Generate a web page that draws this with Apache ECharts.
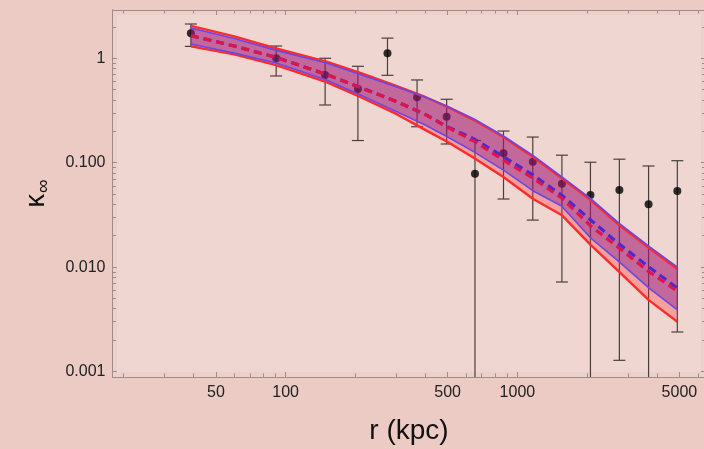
<!DOCTYPE html>
<html>
<head>
<meta charset="utf-8">
<script src="https://cdn.jsdelivr.net/npm/echarts@6/dist/echarts.min.js"></script>
<style>
html, body { margin: 0; padding: 0; background: #ebcbc4; }
#main { width: 704px; height: 449px; }
</style>
</head>
<body>
<div id="main"></div>
<script>
// 模型带的采样半径 (kpc)
var bandR = [39, 60, 91, 150, 210, 300, 400, 500, 650, 870, 1170, 1550, 2070, 2750, 3700, 4900];
// 红色带 上下边界 + 中线
var redTop = [2.04, 1.62, 1.24, 0.93, 0.723, 0.543, 0.426, 0.342, 0.256, 0.176, 0.1134, 0.0714, 0.0439, 0.0253, 0.0152, 0.0096];
var redMid = [1.65, 1.31, 1.02, 0.70, 0.525, 0.386, 0.290, 0.218, 0.161, 0.106, 0.071, 0.046, 0.0248, 0.0152, 0.0090, 0.0059];
var redBot = [1.30, 1.09, 0.86, 0.59, 0.426, 0.293, 0.206, 0.158, 0.111, 0.073, 0.0449, 0.0316, 0.0163, 0.0090, 0.0048, 0.0030];
// 蓝色带
var blueTop = [1.95, 1.55, 1.19, 0.90, 0.70, 0.535, 0.426, 0.345, 0.262, 0.180, 0.117, 0.0735, 0.0452, 0.0262, 0.0158, 0.0100];
var blueMid = [1.65, 1.31, 1.02, 0.70, 0.525, 0.386, 0.290, 0.220, 0.169, 0.114, 0.076, 0.049, 0.0283, 0.0166, 0.0100, 0.0063];
var blueBot = [1.37, 1.12, 0.90, 0.62, 0.445, 0.309, 0.230, 0.176, 0.127, 0.085, 0.0536, 0.0385, 0.0190, 0.0112, 0.0063, 0.0039];

// 观测点 + 误差棒 (1e-4 = 下端在坐标轴以下)
var ptR = [39, 91, 148, 205, 275, 369, 495, 656, 871, 1165, 1556, 2066, 2754, 3681, 4898];
var ptK = [1.74, 1.0, 0.692, 0.508, 1.12, 0.423, 0.276, 0.0785, 0.123, 0.102, 0.0629, 0.049, 0.0548, 0.040, 0.0536];
var ptHi = [2.13, 1.31, 1.0, 0.838, 1.56, 0.62, 0.405, 0.163, 0.201, 0.176, 0.118, 0.101, 0.108, 0.093, 0.1045];
var ptLo = [1.30, 0.677, 0.357, 0.163, 0.687, 0.221, 0.151, 1e-4, 0.0449, 0.0282, 0.0072, 1e-4, 0.00128, 1e-4, 0.00239];

// 刻度
var xMajor = [50, 100, 500, 1000, 5000];
var xMinor = [20, 30, 40, 60, 70, 80, 90, 200, 300, 400, 600, 700, 800, 900, 2000, 3000, 4000, 6000];
var yMajor = [0.001, 0.01, 0.1, 1];
var yMinor = [0.002, 0.003, 0.004, 0.005, 0.006, 0.007, 0.008, 0.009,
	0.02, 0.03, 0.04, 0.05, 0.06, 0.07, 0.08, 0.09,
	0.2, 0.3, 0.4, 0.5, 0.6, 0.7, 0.8, 0.9, 2];
var xRange = [17.9, 6480];
var yRange = [0.000886, 2.90];
var innerX = [18.7, 6190];
var innerY = [0.00099, 2.6];

var frameColor = '#9c8c8a';
var font = 'Liberation Sans, Arial, sans-serif';

function pairs(xs, ys) {
	return xs.map(function(x, i) { return [x, ys[i]]; });
}

// 多边形填充带
function band(top, bot, fill) {
	return {
		type: 'custom',
		z: 3,
		silent: true,
		data: [[bandR[0], top[0]]],
		renderItem: function(params, api) {
			var pts = [];
			for (var i = 0; i < bandR.length; i++) pts.push(api.coord([bandR[i], top[i]]));
			for (var j = bandR.length - 1; j >= 0; j--) pts.push(api.coord([bandR[j], bot[j]]));
			return { type: 'polygon', shape: { points: pts }, style: { fill: fill } };
		}
	};
}

function edge(ys, color, width, dash, z) {
	return {
		type: 'line',
		z: z,
		silent: true,
		showSymbol: false,
		data: pairs(bandR, ys),
		lineStyle: { color: color, width: width, type: dash ? [8, 5] : 'solid' }
	};
}

function xAx(pos, vals, len, labels) {
	return {
		type: 'log', position: pos, min: xRange[0], max: xRange[1],
		splitLine: { show: false },
		axisLine: { show: true, lineStyle: { color: frameColor, width: 1 } },
		axisTick: { inside: true, customValues: vals, length: len, lineStyle: { color: frameColor } },
		axisLabel: labels ? {
			customValues: vals, fontSize: 16, color: '#222', margin: 8, fontFamily: font,
			formatter: function(v) { return String(Math.round(v)); }
		} : { show: false }
	};
}

function yAx(pos, vals, len, labels) {
	return {
		type: 'log', position: pos, min: yRange[0], max: yRange[1],
		splitLine: { show: false },
		axisLine: { show: true, lineStyle: { color: frameColor, width: 1 } },
		axisTick: { inside: true, customValues: vals, length: len, lineStyle: { color: frameColor } },
		axisLabel: labels ? {
			customValues: vals, fontSize: 16, color: '#222', margin: 7, fontFamily: font,
			formatter: function(v) { return v > 0.5 ? '1' : v.toFixed(3); }
		} : { show: false }
	};
}

var xAxes = [xAx('bottom', xMajor, 6, true), xAx('bottom', xMinor, 3.5, false),
	xAx('top', xMajor, 6, false), xAx('top', xMinor, 3.5, false)];
xAxes[0].name = 'r (kpc)';
xAxes[0].nameLocation = 'middle';
xAxes[0].nameGap = 40;
xAxes[0].nameTextStyle = { fontSize: 28, color: '#111', fontFamily: font };

var yAxes = [yAx('left', yMajor, 6, true), yAx('left', yMinor, 3.5, false),
	yAx('right', yMajor, 6, false), yAx('right', yMinor, 3.5, false)];
yAxes[0].name = '{k|κ}{s|∞}';
yAxes[0].nameLocation = 'middle';
yAxes[0].nameRotate = 90;
yAxes[0].nameGap = 62;
yAxes[0].nameTextStyle = {
	color: '#111', fontFamily: font,
	rich: {
		k: { fontSize: 27, color: '#111', fontFamily: font, lineHeight: 30, verticalAlign: 'bottom' },
		s: { fontSize: 19, color: '#111', fontFamily: font, lineHeight: 30, verticalAlign: 'bottom', padding: [0, 0, -3, 1] }
	}
};

var chart = echarts.init(document.getElementById('main'));
var option = {
	animation: false,
	backgroundColor: '#ebcbc4',
	grid: {
		left: 112.5, right: -1.5, top: 10, bottom: 72,
		outerBoundsMode: 'none', containLabel: false,
		show: true, backgroundColor: '#edd0ca', borderWidth: 0
	},
	xAxis: xAxes,
	yAxis: yAxes,
	graphic: [{
		type: 'text', left: 143, top: 255,
		style: { text: 'MACSJ1720', fontSize: 25, fill: '#111', fontFamily: font }
	}],
	series: [
		{
			// 内部浅色背景
			type: 'line', data: [], z: 0, silent: true,
			markArea: {
				silent: true,
				itemStyle: { color: '#f0d6d1' },
				data: [[{ coord: [innerX[0], innerY[1]] }, { coord: [innerX[1], innerY[0]] }]]
			}
		},
		{
			// 误差棒
			type: 'custom', z: 1, clip: true, silent: true,
			data: ptR.map(function(r, i) { return [r, ptK[i], ptHi[i], ptLo[i]]; }),
			renderItem: function(params, api) {
				var r = api.value(0);
				var hi = api.coord([r, api.value(2)]);
				var lo = api.coord([r, api.value(3)]);
				var st = { stroke: '#4a3f3f', lineWidth: 1.2 };
				return {
					type: 'group',
					children: [
						{ type: 'line', shape: { x1: hi[0], y1: hi[1], x2: lo[0], y2: lo[1] }, style: st },
						{ type: 'line', shape: { x1: hi[0] - 6, y1: hi[1], x2: hi[0] + 6, y2: hi[1] }, style: st },
						{ type: 'line', shape: { x1: lo[0] - 6, y1: lo[1], x2: lo[0] + 6, y2: lo[1] }, style: st }
					]
				};
			}
		},
		{
			type: 'scatter', z: 2, silent: true, symbolSize: 8,
			itemStyle: { color: '#000' },
			data: pairs(ptR, ptK)
		},
		band(redTop, redBot, 'rgba(255,40,40,0.30)'),
		band(blueTop, blueBot, 'rgba(120,20,150,0.40)'),
		edge(redTop, '#ff2a2a', 2.4, false, 4),
		edge(redBot, '#ff2a2a', 2.4, false, 4),
		edge(blueTop, '#6c46e6', 1.6, false, 5),
		edge(blueBot, '#6c46e6', 1.6, false, 5),
		edge(blueMid, '#4a2ad0', 3.2, true, 6),
		edge(redMid, '#e0144c', 3.2, true, 7)
	]
};
chart.setOption(option);
</script>
</body>
</html>
